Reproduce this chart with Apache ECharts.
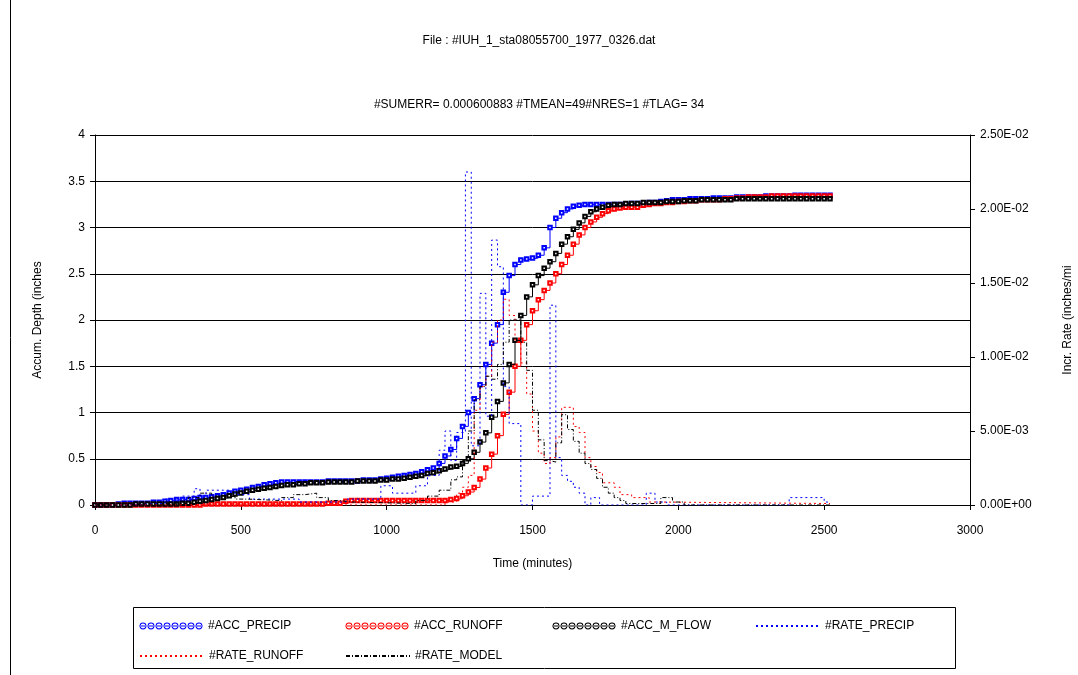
<!DOCTYPE html>
<html><head><meta charset="utf-8">
<script src="https://cdn.jsdelivr.net/npm/echarts@6/dist/echarts.min.js"></script>
<style>html,body{margin:0;padding:0;background:#fff}#c{width:1078px;height:675px}</style>
</head><body><div id="c"></div>
<script>
const times = [0,20,40,60,80,100,120,140,160,180,200,220,240,260,280,300,320,340,360,380,400,420,440,460,480,500,520,540,560,580,600,620,640,660,680,700,720,740,760,780,800,820,840,860,880,900,920,940,960,980,1000,1020,1040,1060,1080,1100,1120,1140,1160,1180,1200,1220,1240,1260,1280,1300,1320,1340,1360,1380,1400,1420,1440,1460,1480,1500,1520,1540,1560,1580,1600,1620,1640,1660,1680,1700,1720,1740,1760,1780,1800,1820,1840,1860,1880,1900,1920,1940,1960,1980,2000,2020,2040,2060,2080,2100,2120,2140,2160,2180,2200,2220,2240,2260,2280,2300,2320,2340,2360,2380,2400,2420,2440,2460,2480,2500,2520];
const accPrecip = [0,0,0,0,0.01,0.02,0.02,0.02,0.02,0.02,
0.03,0.03,0.04,0.05,0.06,0.06,0.06,0.07,0.08,0.08,
0.09,0.10,0.11,0.13,0.15,0.16,0.17,0.19,0.20,0.22,
0.23,0.24,0.25,0.25,0.25,0.25,0.25,0.25,0.25,0.25,
0.26,0.26,0.26,0.26,0.26,0.26,0.27,0.27,0.27,0.28,
0.29,0.30,0.31,0.32,0.33,0.34,0.36,0.38,0.40,0.45,
0.53,0.60,0.72,0.85,1.00,1.15,1.30,1.52,1.75,1.95,
2.30,2.48,2.60,2.65,2.66,2.67,2.70,2.78,3.00,3.10,
3.16,3.20,3.23,3.24,3.25,3.25,3.25,3.25,3.25,3.25,
3.25,3.25,3.26,3.26,3.26,3.27,3.27,3.28,3.29,3.30,
3.30,3.30,3.31,3.31,3.31,3.31,3.32,3.32,3.32,3.32,
3.33,3.33,3.33,3.33,3.33,3.34,3.34,3.34,3.34,3.34,
3.35,3.35,3.35,3.35,3.35,3.35,3.35];
const accRunoff = [0,0,0,0,0,0,0,0,0,0,
0,0,0,0,0,0,0,0,0,0.01,
0.01,0.01,0.01,0.01,0.01,0.01,0.01,0.01,0.01,0.01,
0.01,0.01,0.01,0.01,0.01,0.01,0.01,0.01,0.01,0.01,
0.02,0.02,0.02,0.04,0.05,0.05,0.05,0.05,0.05,0.05,
0.05,0.05,0.05,0.05,0.05,0.05,0.05,0.05,0.05,0.05,
0.05,0.06,0.07,0.10,0.14,0.19,0.28,0.40,0.55,0.75,
0.98,1.22,1.50,1.78,1.95,2.10,2.22,2.32,2.40,2.50,
2.60,2.70,2.82,2.92,3.00,3.06,3.11,3.15,3.18,3.20,
3.21,3.22,3.22,3.22,3.24,3.25,3.26,3.26,3.27,3.27,
3.28,3.28,3.29,3.29,3.30,3.30,3.30,3.30,3.31,3.31,
3.32,3.32,3.33,3.33,3.33,3.33,3.34,3.34,3.34,3.34,
3.34,3.34,3.34,3.34,3.34,3.34,3.34];
const accMFlow = [0,0,0,0,0,0,0,0.01,0.01,0.01,
0.01,0.01,0.01,0.01,0.01,0.02,0.02,0.03,0.04,0.05,
0.06,0.07,0.08,0.10,0.12,0.13,0.15,0.16,0.17,0.18,
0.19,0.20,0.21,0.22,0.22,0.23,0.23,0.24,0.24,0.24,
0.25,0.25,0.25,0.25,0.25,0.26,0.26,0.26,0.26,0.27,
0.27,0.28,0.28,0.29,0.30,0.31,0.32,0.34,0.35,0.37,
0.39,0.41,0.42,0.45,0.50,0.57,0.68,0.78,0.95,1.12,
1.32,1.52,1.78,2.05,2.25,2.38,2.48,2.56,2.63,2.72,
2.82,2.90,2.98,3.05,3.12,3.17,3.20,3.22,3.24,3.25,
3.25,3.26,3.26,3.26,3.27,3.27,3.27,3.27,3.28,3.28,
3.28,3.29,3.29,3.29,3.30,3.30,3.30,3.30,3.30,3.30,
3.31,3.31,3.31,3.31,3.31,3.31,3.31,3.31,3.31,3.31,
3.31,3.31,3.31,3.31,3.31,3.31,3.31];

const ratePrecipT = [0,100,240,300,340,360,380,440,480,530,700,860,980,1020,1100,1140,1180,1200,1220,1240,1270,1290,1320,1340,1360,1380,1400,1420,1460,1500,1560,1580,1600,1620,1640,1660,1680,1700,1730,1890,1920,1960,2380,2500,2520];
const ratePrecipV = [0,0.0001,0.0004,0.0006,0.0011,0.0006,0.0010,0.0010,0.0007,0.0004,0.0002,0.0004,0.0013,0.0008,0.0013,0.0020,0.0037,0.0050,0.0030,0.0049,0.0225,0.0040,0.0143,0.0060,0.0179,0.0161,0.0080,0.0055,0,0.0006,0.0135,0.0032,0.0020,0.0016,0.0012,0.0008,0,0.0005,0,0.0008,0.0002,0,0.0005,0.0002,0.0002];
const rateRunoffT = [0,1200,1240,1260,1280,1300,1320,1340,1360,1380,1400,1420,1440,1460,1480,1500,1520,1540,1560,1580,1600,1620,1640,1660,1680,1700,1720,1740,1780,1800,1840,1900,1940,2520];
const rateRunoffV = [0,0.0002,0.0008,0.0012,0.0020,0.0064,0.0080,0.0087,0.0110,0.0125,0.0139,0.0128,0.0110,0.0096,0.0075,0.0050,0.0035,0.0028,0.0032,0.0046,0.0066,0.0066,0.0053,0.0049,0.0032,0.0026,0.0022,0.0015,0.0012,0.0007,0.0005,0.0002,0.0001,0.0001];
const rateModelT = [0,280,320,360,400,440,480,520,640,680,720,760,800,840,880,1100,1140,1180,1220,1240,1260,1280,1300,1320,1340,1360,1380,1400,1420,1440,1460,1480,1500,1520,1540,1560,1580,1600,1620,1640,1660,1680,1700,1720,1740,1760,1780,1800,1820,1940,1980,2020,2520];
const rateModelV = [0,0.0002,0.0005,0.0008,0.0006,0.0006,0.0004,0.0003,0.0005,0.0007,0.0008,0.0005,0.0003,0.0002,0.0001,0.0003,0.0006,0.0010,0.0017,0.0019,0.0030,0.0050,0.0071,0.0080,0.0087,0.0085,0.0095,0.0110,0.0125,0.0125,0.0110,0.0091,0.0064,0.0044,0.0030,0.0029,0.0042,0.0061,0.0051,0.0043,0.0035,0.0028,0.0024,0.0018,0.0012,0.0008,0.0005,0.0003,0.0001,0.0005,0.0002,0,0];

const seriesNames = ['#ACC_PRECIP','#ACC_RUNOFF','#ACC_M_FLOW','#RATE_PRECIP','#RATE_RUNOFF','#RATE_MODEL'];
const rightTickLabels = ['0.00E+00','5.00E-03','1.00E-02','1.50E-02','2.00E-02','2.50E-02'];
const titleText = 'File : #IUH_1_sta08055700_1977_0326.dat';
const subtitleText = '#SUMERR= 0.000600883 #TMEAN=49#NRES=1 #TLAG= 34';

const FONT = 'Liberation Sans, Arial, sans-serif';
const pairs = (t, v) => t.map((x, i) => [x, v[i]]);

// legend icon: chain of thin hollow circles on a line
let ring = 'M0,3.6L64,3.6L64,4.4L0,4.4Z';
for (let i = 0; i < 8; i++) {
  const cx = 4 + i * 8, cy = 4, r = 3.4, r2 = 2.4;
  ring += `M${cx - r},${cy}a${r},${r} 0 1,0 ${2*r},0a${r},${r} 0 1,0 ${-2*r},0Z`;
  ring += `M${cx - r2},${cy}a${r2},${r2} 0 1,1 ${2*r2},0a${r2},${r2} 0 1,1 ${-2*r2},0Z`;
}
const ringIcon = 'path://' + ring;

const chart = echarts.init(document.getElementById('c'), null, {renderer: 'canvas'});
const colors = ['#0000ff','#ff0000','#000000','#0000ff','#ff0000','#000000'];
const legendPos = [[139,620],[345,620],[552,620],[755,620],[139,650],[345,650]];
const legends = seriesNames.map((n, i) => ({
  data: [n], left: legendPos[i][0], top: legendPos[i][1],
  itemWidth: 64, itemHeight: 8, itemGap: 0, padding: 0,
  selectedMode: false,
  icon: i < 3 ? ringIcon : undefined,
  itemStyle: i < 3 ? {color: colors[i], borderWidth: 0} : {opacity: 0},
  textStyle: {fontFamily: FONT, fontSize: 12, color: '#000'}
}));

const accSeries = [accPrecip, accRunoff, accMFlow].map((arr, i) => ({
  name: seriesNames[i], type: 'line', step: 'end',
  data: pairs(times, arr), xAxisIndex: 0, yAxisIndex: 0,
  symbol: 'emptyRect', symbolSize: 3.5, showSymbol: true, showAllSymbol: true,
  itemStyle: {color: colors[i], borderColor: colors[i], borderWidth: 1},
  lineStyle: {color: colors[i], width: 1},
  animation: false, z: 3 + i
}));
const rateDefs = [[ratePrecipT, ratePrecipV, [2,3]], [rateRunoffT, rateRunoffV, [2,3]], [rateModelT, rateModelV, [4,2,1,2]]];
const rateSeries = rateDefs.map((d, j) => ({
  name: seriesNames[3 + j], type: 'line', step: 'end',
  data: pairs(d[0], d[1]), xAxisIndex: 0, yAxisIndex: 1,
  symbol: 'none', showSymbol: false,
  itemStyle: {color: colors[3 + j]},
  lineStyle: {color: colors[3 + j], width: 1, type: d[2]},
  animation: false, z: 6 + j
}));

chart.setOption({
  animation: false,
  backgroundColor: '#fff',
  title: [
    {text: titleText, left: 'center', top: 30, textStyle: {fontFamily: FONT, fontSize: 12, fontWeight: 'normal', color: '#000'}},
    {text: subtitleText, left: 'center', top: 94, textStyle: {fontFamily: FONT, fontSize: 12, fontWeight: 'normal', color: '#000'}}
  ],
  legend: legends,
  grid: {left: 95, right: 108, top: 135, bottom: 170, containLabel: false, outerBoundsMode: 'none'},
  xAxis: {
    type: 'value', min: 0, max: 3000, interval: 500,
    name: 'Time (minutes)', nameLocation: 'middle', nameGap: 53,
    nameTextStyle: {fontFamily: FONT, fontSize: 12, color: '#000'},
    axisLine: {show: true, lineStyle: {color: '#000', width: 1}},
    axisTick: {show: true, inside: false, length: 5, lineStyle: {color: '#000'}},
    axisLabel: {fontFamily: FONT, fontSize: 12, color: '#000', margin: 20, formatter: v => String(v)},
    splitLine: {show: false}
  },
  yAxis: [
    {
      type: 'value', min: 0, max: 4, interval: 0.5, position: 'left',
      name: 'Accum. Depth (inches', nameLocation: 'middle', nameGap: 51, nameRotate: 90,
      nameTextStyle: {fontFamily: FONT, fontSize: 12, color: '#000'},
      axisLine: {show: true, lineStyle: {color: '#000', width: 1}},
      axisTick: {show: true, length: 5, lineStyle: {color: '#000'}},
      axisLabel: {fontFamily: FONT, fontSize: 12, color: '#000', margin: 10, formatter: v => String(v)},
      splitLine: {show: true, lineStyle: {color: '#000', width: 1}}
    },
    {
      type: 'value', min: 0, max: 0.025, interval: 0.005, position: 'right',
      name: 'Incr. Rate (inches/mi', nameLocation: 'middle', nameGap: 92, nameRotate: 90,
      nameTextStyle: {fontFamily: FONT, fontSize: 12, color: '#000'},
      axisLine: {show: true, lineStyle: {color: '#000', width: 1}},
      axisTick: {show: true, length: 5, lineStyle: {color: '#000'}},
      axisLabel: {fontFamily: FONT, fontSize: 12, color: '#000', margin: 10,
        formatter: v => rightTickLabels[Math.round(v / 0.005)]},
      splitLine: {show: false}
    }
  ],
  series: accSeries.concat(rateSeries),
  graphic: [
    {type: 'rect', shape: {x: 133.5, y: 607.5, width: 822, height: 61}, style: {fill: 'none', stroke: '#000', lineWidth: 1}, z: -1, silent: true},
    {type: 'line', shape: {x1: 10.5, y1: 0, x2: 10.5, y2: 675}, style: {stroke: '#000', lineWidth: 1}, silent: true}
  ]
});
</script></body></html>
